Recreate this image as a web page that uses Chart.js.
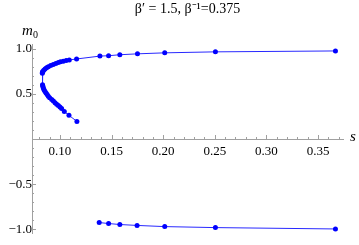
<!DOCTYPE html>
<html>
<head>
<meta charset="utf-8">
<script src="https://cdn.jsdelivr.net/npm/chart.js@4"></script>
<style>
  html, body { margin: 0; padding: 0; background: #fff; }
  #wrap { width: 359px; height: 245px; }
</style>
</head>
<body>
<div id="wrap"><canvas id="myChart"></canvas></div>
<script>
// upper curve, ordered along the curve (right branch -> turning point -> lower branch)
const upperS = [
  0.3669, 0.2506, 0.2015, 0.1751, 0.1580, 0.1471, 0.1387, 0.1161, 0.1090,
  0.1060, 0.1032, 0.1005, 0.0984, 0.0960, 0.0935, 0.0910, 0.0887, 0.0870,
  0.0855, 0.0843, 0.0833, 0.0830, 0.0829,
  0.0831, 0.0833, 0.0836, 0.0840, 0.0847, 0.0855, 0.0865, 0.0876, 0.0887,
  0.0900, 0.0920, 0.0936, 0.0952, 0.0968, 0.0984, 0.1000, 0.1016, 0.1042,
  0.1087, 0.1164
];
const upperM = [
  0.975, 0.965, 0.954, 0.943, 0.933, 0.922, 0.918, 0.886, 0.875,
  0.868, 0.861, 0.854, 0.847, 0.837, 0.825, 0.813, 0.800, 0.788,
  0.775, 0.762, 0.747, 0.738, 0.729,
  0.600, 0.590, 0.575, 0.560, 0.543, 0.526, 0.510, 0.492, 0.473,
  0.458, 0.437, 0.420, 0.401, 0.386, 0.372, 0.355, 0.337, 0.305,
  0.262, 0.195
];
const lowerS = [0.1380, 0.1471, 0.1580, 0.1747, 0.2015, 0.2506, 0.3669];
const lowerM = [-0.925, -0.936, -0.947, -0.957, -0.970, -0.981, -0.996];

const xTicks = [0.10, 0.15, 0.20, 0.25, 0.30, 0.35];
const yTicks = [-1.0, -0.5, 0.5, 1.0];
const titleText = 'β′ = 1.5, β⁻¹=0.375';

const xMin = 0.0729, xMax = 0.3742;
const yMin = -1.043, yMax = 1.043;
const serif = 'Liberation Serif, Times New Roman, serif';
const axisColor = '#a0a0a0';

function toPoints(xs, ys) {
  return xs.map((v, i) => ({ x: v, y: ys[i] }));
}

const axisExtras = {
  id: 'axisExtras',
  afterDraw(chart) {
    const { ctx, scales: { x, y } } = chart;
    const ax = x.getPixelForValue(xMin);
    const ay = y.getPixelForValue(0);
    ctx.save();
    ctx.strokeStyle = axisColor;
    ctx.lineWidth = 1;
    ctx.beginPath();
    for (let i = 8; i <= 37; i++) {
      const px = Math.round(x.getPixelForValue(i / 100)) + 0.5;
      const len = i % 5 === 0 ? 4 : 2;
      ctx.moveTo(px, ay);
      ctx.lineTo(px, ay - len);
    }
    for (let i = -10; i <= 10; i++) {
      if (i === 0) continue;
      const py = Math.round(y.getPixelForValue(i / 10)) + 0.5;
      const len = i % 5 === 0 ? 4 : 2;
      ctx.moveTo(ax, py);
      ctx.lineTo(ax + len, py);
    }
    ctx.stroke();

    ctx.fillStyle = '#000';
    ctx.textBaseline = 'alphabetic';
    ctx.font = 'italic 15px ' + serif;
    ctx.textAlign = 'left';
    ctx.fillText('s', x.right + 7, ay + 2);
    ctx.fillText('m', ax - 10, 35);
    ctx.font = '10px ' + serif;
    ctx.fillText('0', ax + 1, 38);
    ctx.restore();
  }
};

const ctx = document.getElementById('myChart').getContext('2d');
const myChart = new Chart(ctx, {
  type: 'scatter',
  data: {
    datasets: [
      {
        data: toPoints(upperS, upperM),
        showLine: true,
        borderColor: 'rgb(40,40,255)',
        borderWidth: 1,
        pointRadius: 2.5,
        pointBackgroundColor: 'rgb(0,0,255)',
        pointBorderWidth: 0
      },
      {
        data: toPoints(lowerS, lowerM),
        showLine: true,
        borderColor: 'rgb(40,40,255)',
        borderWidth: 1,
        pointRadius: 2.5,
        pointBackgroundColor: 'rgb(0,0,255)',
        pointBorderWidth: 0
      }
    ]
  },
  options: {
    responsive: true,
    maintainAspectRatio: false,
    animation: false,
    layout: { padding: { left: 32, right: 16, bottom: 5, top: 0 } },
    plugins: {
      legend: { display: false },
      tooltip: { enabled: false },
      title: {
        display: true,
        text: titleText,
        color: '#000',
        font: { family: serif, size: 14, weight: 'normal' },
        padding: { top: 1, bottom: 27 }
      }
    },
    scales: {
      x: {
        type: 'linear',
        position: { y: 0 },
        min: xMin,
        max: xMax,
        afterBuildTicks: (scale) => { scale.ticks = xTicks.map(v => ({ value: v })); },
        grid: { drawOnChartArea: false, drawTicks: false },
        border: { color: axisColor, width: 1 },
        ticks: {
          callback: (v) => v.toFixed(2),
          color: '#000',
          font: { family: serif, size: 13 },
          padding: 5,
          maxRotation: 0,
          autoSkip: false
        }
      },
      y: {
        type: 'linear',
        position: { x: xMin },
        min: yMin,
        max: yMax,
        afterBuildTicks: (scale) => { scale.ticks = yTicks.map(v => ({ value: v })); },
        grid: { drawOnChartArea: false, drawTicks: false },
        border: { color: axisColor, width: 1 },
        ticks: {
          callback: (v) => (v < 0 ? '\u2212' : '') + Math.abs(v).toFixed(1),
          color: '#000',
          font: { family: serif, size: 13 },
          padding: 4,
          autoSkip: false
        }
      }
    }
  },
  plugins: [axisExtras]
});
</script>
</body>
</html>
